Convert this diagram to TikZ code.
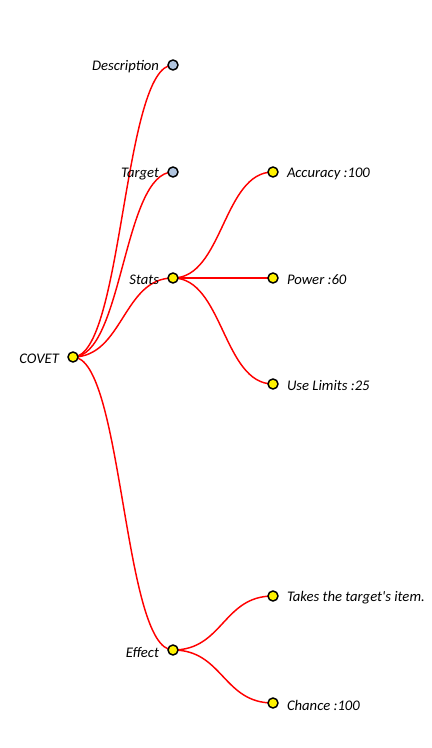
\documentclass[tikz,border=0pt]{standalone}
\usepackage{fontspec}
\setmainfont{Carlito}
\usetikzlibrary{backgrounds}
\tikzset{
  knot/.style={circle,draw=black,line width=1.1pt,fill=yellow,minimum size=7.5pt,inner sep=0pt},
  shut/.style={knot,fill=grey},
  lbl/.style={font=\itshape\fontsize{11}{12}\selectfont,inner sep=0pt,text=black,yshift=-1.5pt},
  link/.style={draw=red,line width=1.1pt,
    to path={.. controls +(50,0) and +(-50,0) .. (\tikztotarget)}}
}
\definecolor{grey}{HTML}{B0C4DE}
\begin{document}
\begin{tikzpicture}[x=0.75pt,y=-0.75pt,label distance=6pt]
  \useasboundingbox (0,0) rectangle (431,748);
  % root and its children
  \node[knot,label={[lbl]left:COVET}] (covet) at (73,357) {};
  \node[shut,label={[lbl]left:Description}] (desc) at (173,65) {};
  \node[shut,label={[lbl]left:Target}] (target) at (173,172) {};
  \node[knot,label={[lbl]left:Stats}] (stats) at (173,278) {};
  \node[knot,label={[lbl]left:Effect}] (effect) at (173,650) {};
  % leaves
  \node[knot,label={[lbl]right:Accuracy :100}] (acc) at (273,172) {};
  \node[knot,label={[lbl]right:Power :60}] (power) at (273,278) {};
  \node[knot,label={[lbl]right:Use Limits :25}] (limits) at (273,384) {};
  \node[knot,label={[lbl]right:Takes the target\textquotesingle s item.}] (takes) at (273,596) {};
  \node[knot,label={[lbl]right:Chance :100}] (chance) at (273,703) {};
  \begin{scope}[on background layer]
    \foreach \kid in {desc,target,stats,effect}
      \path (covet.center) edge[link] (\kid.center);
    \foreach \kid in {acc,power,limits}
      \path (stats.center) edge[link] (\kid.center);
    \foreach \kid in {takes,chance}
      \path (effect.center) edge[link] (\kid.center);
  \end{scope}
\end{tikzpicture}
\end{document}
